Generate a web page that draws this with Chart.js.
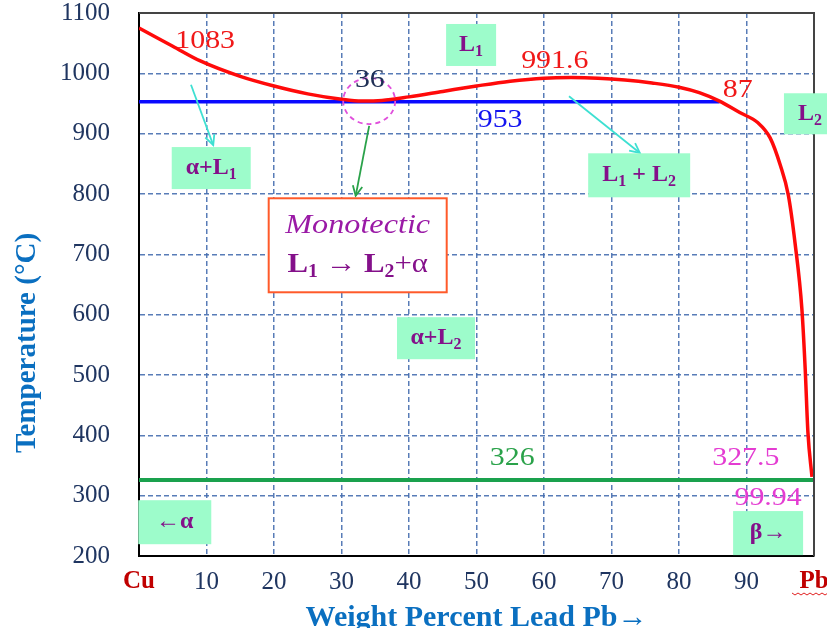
<!DOCTYPE html>
<html lang="en">
<head>
  <meta charset="UTF-8" />
  <title>Cu-Pb Phase Diagram</title>
  <script src="https://cdn.jsdelivr.net/npm/chart.js"></script>
  <style>
    body { margin: 0; background: #fff; }
    #wrap { width: 827px; height: 628px; }
  </style>
</head>
<body>
  <div id="wrap"><canvas id="phaseChart" width="827" height="628"></canvas></div>

  <script>
    // liquidus / miscibility gap curve: wt% Pb vs temperature (°C)
    const liquidusPb = [0, 5, 9, 15, 20, 25, 30, 33, 36, 40, 45, 50, 55, 60, 64, 68, 72, 76, 80, 83, 86, 89, 91.7, 93.5, 95, 96.2, 97.2, 98.2, 98.7, 99.1, 99.7];
    const liquidusT  = [1075, 1045, 1021, 995, 979, 966, 957, 954, 955, 961, 970, 979, 987, 992, 993, 992, 989, 984, 977, 968, 954, 935, 918, 893, 848, 798, 718, 610, 509, 405, 331];

    // monotectic isotherm (953 °C) and eutectic isotherm (326 °C)
    const monotecticPb = [0, 86];
    const monotecticT  = [953, 953];
    const eutecticPb   = [0, 100];
    const eutecticT    = [326, 326];

    // axis ticks
    const xTickValues = [0, 10, 20, 30, 40, 50, 60, 70, 80, 90, 100];
    const xTickLabels = ['Cu', '10', '20', '30', '40', '50', '60', '70', '80', '90', 'Pb'];
    const yMin = 200, yMax = 1100, yStep = 100;

    const toPoints = (xs, ys) => xs.map((x, i) => ({ x: x, y: ys[i] }));

    // annotations (data coordinates, placed through the scales)
    const valueNotes = [
      { text: '1083',  x: 9.8,  y: 1054, color: '#f01818' },
      { text: '36',    x: 34.2, y: 989,  color: '#1f2f55' },
      { text: '991.6', x: 61.6, y: 1020, color: '#f01818' },
      { text: '87',    x: 88.7, y: 972,  color: '#f01818' },
      { text: '953',   x: 53.5, y: 923,  color: '#1414f0' },
      { text: '326',   x: 55.3, y: 362,  color: '#2aa24a' },
      { text: '327.5', x: 89.9, y: 362,  color: '#e43cd2' },
      { text: '99.94', x: 93.2, y: 296,  color: '#e43cd2' }
    ];

    const phaseBoxes = [
      { parts: [['L', 'b'], ['1', 'sb']], x: 49.2, y: 1047, w: 50, h: 42 },
      { parts: [['α+L', 'b'], ['1', 'sb']], x: 10.7, y: 843, w: 79, h: 42 },
      { parts: [['L', 'b'], ['1', 'sb'], [' + ', 'b'], ['L', 'b'], ['2', 'sb']], x: 74.1, y: 831, w: 102, h: 44 },
      { parts: [['L', 'b'], ['2', 'sb']], x: 99.4, y: 933, w: 52, h: 41 },
      { parts: [['α+L', 'b'], ['2', 'sb']], x: 44.0, y: 561, w: 78, h: 42 },
      { parts: [['←α', 'b']], x: 5.3, y: 256, w: 73, h: 44 },
      { parts: [['β→', 'b']], x: 93.2, y: 238, w: 70, h: 44 }
    ];

    const arrows = [
      { from: [7.7, 981],  to: [11.0, 881], color: '#3ee0d2' },
      { from: [63.7, 962], to: [74.2, 868], color: '#3ee0d2' },
      { from: [34.1, 913], to: [32.1, 797], color: '#2aa24a' }
    ];

    function drawRich(ctx, parts, cx, cy, size, color) {
      const fam = "'Liberation Serif', serif";
      const fontOf = k => {
        const sz = k[0] === 's' ? Math.round(size * 0.65) : size;
        const wt = k.indexOf('b') >= 0 ? 'bold ' : '';
        const it = k.indexOf('i') >= 0 ? 'italic ' : '';
        return it + wt + sz + 'px ' + fam;
      };
      let total = 0;
      const widths = parts.map(([t, k]) => {
        ctx.font = fontOf(k);
        const w = ctx.measureText(t).width;
        total += w;
        return w;
      });
      let xx = cx - total / 2;
      ctx.fillStyle = color;
      ctx.textAlign = 'left';
      ctx.textBaseline = 'middle';
      parts.forEach(([t, k], i) => {
        ctx.font = fontOf(k);
        ctx.fillText(t, xx, k[0] === 's' ? cy + size * 0.28 : cy);
        xx += widths[i];
      });
    }

    const phaseNotes = {
      id: 'phaseNotes',
      afterDraw(chart) {
        const { ctx, chartArea: a, scales: { x, y } } = chart;
        const px = v => x.getPixelForValue(v);
        const py = v => y.getPixelForValue(v);
        ctx.save();

        // top and right frame
        ctx.strokeStyle = '#444';
        ctx.lineWidth = 2;
        ctx.beginPath();
        ctx.moveTo(a.left, a.top);
        ctx.lineTo(a.right, a.top);
        ctx.lineTo(a.right, a.bottom);
        ctx.stroke();

        // dashed circle around monotectic point
        ctx.strokeStyle = '#e050dc';
        ctx.lineWidth = 1.8;
        ctx.setLineDash([5, 4]);
        ctx.beginPath();
        ctx.ellipse(px(34.1), py(954), 26, 23, 0, 0, Math.PI * 2);
        ctx.stroke();
        ctx.setLineDash([]);

        // arrows
        arrows.forEach(ar => {
          const x1 = px(ar.from[0]), y1 = py(ar.from[1]);
          const x2 = px(ar.to[0]), y2 = py(ar.to[1]);
          ctx.strokeStyle = ar.color;
          ctx.lineWidth = 1.8;
          ctx.beginPath();
          ctx.moveTo(x1, y1);
          ctx.lineTo(x2, y2);
          ctx.stroke();
          const ang = Math.atan2(y2 - y1, x2 - x1);
          ctx.beginPath();
          ctx.moveTo(x2 - 11 * Math.cos(ang - 0.45), y2 - 11 * Math.sin(ang - 0.45));
          ctx.lineTo(x2, y2);
          ctx.lineTo(x2 - 11 * Math.cos(ang + 0.45), y2 - 11 * Math.sin(ang + 0.45));
          ctx.stroke();
        });

        // value labels
        ctx.textAlign = 'center';
        ctx.textBaseline = 'middle';
        ctx.font = "26px 'Liberation Serif', serif";
        valueNotes.forEach(n => {
          ctx.save();
          ctx.translate(px(n.x), py(n.y));
          ctx.scale(1.15, 1);
          ctx.fillStyle = n.color;
          ctx.fillText(n.text, 0, 0);
          ctx.restore();
        });

        // phase region boxes
        phaseBoxes.forEach(b => {
          const cx = px(b.x), cy = py(b.y);
          ctx.fillStyle = '#9dfccb';
          ctx.fillRect(cx - b.w / 2, cy - b.h / 2, b.w, b.h);
          drawRich(ctx, b.parts, cx, cy, 24, '#84108a');
        });

        // monotectic reaction box
        const mx = px(32.4), my = py(715);
        ctx.fillStyle = '#fff';
        ctx.fillRect(mx - 89, my - 47, 178, 94);
        ctx.strokeStyle = '#ff5a2a';
        ctx.lineWidth = 2;
        ctx.strokeRect(mx - 89, my - 47, 178, 94);
        ctx.save();
        ctx.translate(mx, my - 20);
        ctx.scale(1.15, 1);
        drawRich(ctx, [['Monotectic', 'i']], 0, 0, 28, '#9a1aa6');
        ctx.restore();
        ctx.save();
        ctx.translate(mx, my + 19);
        ctx.scale(1.1, 1);
        drawRich(ctx, [['L', 'b'], ['1', 'sb'], [' → ', 'r'], ['L', 'b'], ['2', 'sb'], ['+α', 'r']], 0, 0, 28, '#84108a');
        ctx.restore();

        // y axis title
        ctx.save();
        ctx.translate(28, 343);
        ctx.rotate(-Math.PI / 2);
        ctx.fillStyle = '#0a6fc0';
        ctx.font = "bold 29px 'Liberation Serif', serif";
        ctx.textAlign = 'center';
        ctx.textBaseline = 'middle';
        ctx.fillText('Temperature (°C)', 0, 0);
        ctx.restore();

        // red squiggle under "Pb"
        const sx = px(100) - 22, sy = a.bottom + 37;
        ctx.strokeStyle = '#e02020';
        ctx.lineWidth = 1;
        ctx.beginPath();
        ctx.moveTo(sx, sy);
        for (let i = 1; i <= 12; i++) ctx.lineTo(sx + i * 3, sy + (i % 2 ? 2 : 0));
        ctx.stroke();

        ctx.restore();
      }
    };

    const noEdgePadding = s => {
      s.paddingTop = 0;
      s.paddingBottom = 0;
      s.paddingLeft = 0;
      s.paddingRight = 0;
    };

    const ctx = document.getElementById('phaseChart').getContext('2d');
    new Chart(ctx, {
      type: 'scatter',
      data: {
        datasets: [
          {
            label: 'Liquidus',
            data: toPoints(liquidusPb, liquidusT),
            showLine: true,
            borderColor: '#ff0a0a',
            borderWidth: 3.5,
            pointRadius: 0,
            cubicInterpolationMode: 'monotone'
          },
          {
            label: 'Monotectic 953',
            data: toPoints(monotecticPb, monotecticT),
            showLine: true,
            borderColor: '#0a0aff',
            borderWidth: 3.5,
            pointRadius: 0
          },
          {
            label: 'Eutectic 326',
            data: toPoints(eutecticPb, eutecticT),
            showLine: true,
            borderColor: '#1aa14e',
            borderWidth: 4,
            pointRadius: 0
          }
        ]
      },
      options: {
        responsive: false,
        animation: false,
        layout: { padding: { top: 13, right: 13, left: 0, bottom: 0 } },
        plugins: {
          legend: { display: false },
          tooltip: { enabled: false }
        },
        scales: {
          x: {
            type: 'linear',
            min: 0,
            max: 100,
            afterFit: s => { s.height = 72; noEdgePadding(s); },
            afterBuildTicks: s => { s.ticks = xTickValues.map(v => ({ value: v })); },
            ticks: {
              autoSkip: false,
              maxRotation: 0,
              padding: 11,
              callback: v => {
                const i = xTickValues.indexOf(v);
                return i < 0 ? '' : xTickLabels[i];
              },
              color: c => (c.tick && (c.tick.value === 0 || c.tick.value === 100)) ? '#c00000' : '#1f3560',
              font: c => ({
                family: "'Liberation Serif', serif",
                size: 25,
                weight: (c.tick && (c.tick.value === 0 || c.tick.value === 100)) ? 'bold' : 'normal'
              })
            },
            grid: { color: 'rgba(70,110,175,0.9)', lineWidth: 1.5, drawTicks: false },
            border: { color: '#000', width: 2, dash: [5, 3] },
            title: {
              display: true,
              text: 'Weight Percent Lead Pb→',
              color: '#0a6fc0',
              font: { family: "'Liberation Serif', serif", size: 30, weight: 'bold', lineHeight: 1 },
              padding: { top: 0, bottom: -5 }
            }
          },
          y: {
            min: yMin,
            max: yMax,
            afterFit: s => { s.width = 139; noEdgePadding(s); },
            ticks: {
              stepSize: yStep,
              autoSkip: false,
              padding: 29,
              color: '#1f3560',
              callback: v => String(v),
              font: { family: "'Liberation Serif', serif", size: 25 }
            },
            grid: { color: 'rgba(70,110,175,0.9)', lineWidth: 1.5, drawTicks: false },
            border: { color: '#000', width: 2, dash: [5, 3] }
          }
        }
      },
      plugins: [phaseNotes]
    });
  </script>
</body>
</html>
